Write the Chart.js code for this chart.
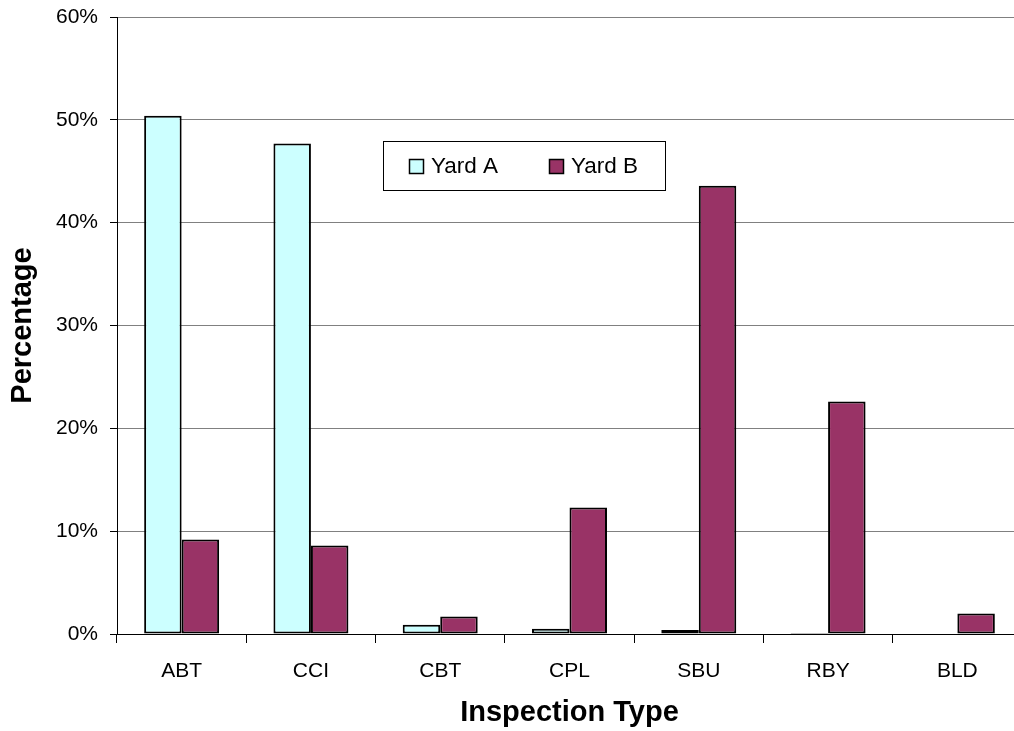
<!DOCTYPE html>
<html>
<head>
<meta charset="utf-8">
<script src="https://cdn.jsdelivr.net/npm/chart.js@4/dist/chart.umd.min.js"></script>
<style>
  html, body { margin: 0; padding: 0; background: #fff; overflow: hidden; }
  #wrap { width: 1030px; height: 731px; }
</style>
</head>
<body>
<div id="wrap"><canvas id="chart" width="1030" height="731"></canvas></div>
<script>
var categories = ['ABT', 'CCI', 'CBT', 'CPL', 'SBU', 'RBY', 'BLD']
var yardA = [50.4, 47.7, 0.9, 0.5, 0.4, 0.1, 0.05]
var yardB = [9.2, 8.6, 1.7, 12.3, 43.6, 22.6, 2.0]
var seriesNames = ['Yard A', 'Yard B']
var yTicks = [0, 10, 20, 30, 40, 50, 60]

var FONT = 'Arial, "Liberation Sans", sans-serif'

// legend box + axis titles, drawn the way the old spreadsheet chart had them
var decorations = {
  id: 'decorations',
  afterDraw: function (chart) {
    var ctx = chart.ctx
    var area = chart.chartArea
    ctx.save()

    // legend
    ctx.fillStyle = '#fff'
    ctx.fillRect(383.5, 141.5, 282, 49)
    ctx.strokeStyle = '#000'
    ctx.lineWidth = 1
    ctx.strokeRect(383.5, 141.5, 282, 49)
    var xs = [[409.5, 431], [549.5, 571]]
    ctx.font = '22.5px ' + FONT
    ctx.textBaseline = 'middle'
    ctx.textAlign = 'left'
    chart.data.datasets.forEach(function (ds, i) {
      ctx.fillStyle = ds.backgroundColor
      ctx.fillRect(xs[i][0], 159.5, 14, 14)
      ctx.lineWidth = 1.5
      ctx.strokeRect(xs[i][0], 159.5, 14, 14)
      ctx.fillStyle = '#000'
      ctx.fillText(ds.label, xs[i][1], 167)
    })

    // axis titles
    ctx.fillStyle = '#000'
    ctx.font = 'bold 29px ' + FONT
    ctx.textAlign = 'center'
    ctx.fillText('Inspection Type', (area.left + area.right) / 2, 713)

    ctx.translate(23, (area.top + area.bottom) / 2)
    ctx.rotate(-Math.PI / 2)
    ctx.fillText('Percentage', 0, 0)
    ctx.restore()
  }
}

var chart = new Chart(document.getElementById('chart').getContext('2d'), {
  type: 'bar',
  data: {
    labels: categories,
    datasets: [{
      label: seriesNames[0],
      data: yardA,
      backgroundColor: '#CCFFFF',
      borderColor: '#000',
      borderWidth: 2,
      borderSkipped: false
    }, {
      label: seriesNames[1],
      data: yardB,
      backgroundColor: '#993366',
      borderColor: '#000',
      borderWidth: 2,
      borderSkipped: false
    }]
  },
  options: {
    responsive: false,
    devicePixelRatio: 1,
    animation: false,
    layout: { padding: { top: 0, right: 8, left: 0, bottom: 0 } },
    datasets: {
      bar: { categoryPercentage: 0.58, barPercentage: 1 }
    },
    plugins: {
      legend: { display: false },
      tooltip: { enabled: false }
    },
    scales: {
      x: {
        offset: true,
        grid: {
          offset: true,
          drawOnChartArea: false,
          tickLength: 9,
          tickColor: '#000'
        },
        border: { display: true, color: '#000', width: 1 },
        ticks: {
          color: '#000',
          padding: 16,
          maxRotation: 0,
          font: { family: FONT, size: 21 }
        },
        afterFit: function (scale) { scale.height = 97 }
      },
      y: {
        min: 0,
        max: 60,
        afterBuildTicks: function (scale) {
          scale.ticks = yTicks.map(function (v) { return { value: v } })
        },
        grid: {
          color: '#808080',
          tickColor: '#000',
          tickLength: 7,
          lineWidth: 1
        },
        border: { display: true, color: '#000', width: 1 },
        ticks: {
          color: '#000',
          padding: 12,
          font: { family: FONT, size: 21 },
          callback: function (v) { return v + '%' }
        },
        afterFit: function (scale) {
          scale.width = 117
          scale.paddingTop = 17
          scale.paddingBottom = 0
        }
      }
    }
  },
  plugins: [decorations]
})
</script>
</body>
</html>
